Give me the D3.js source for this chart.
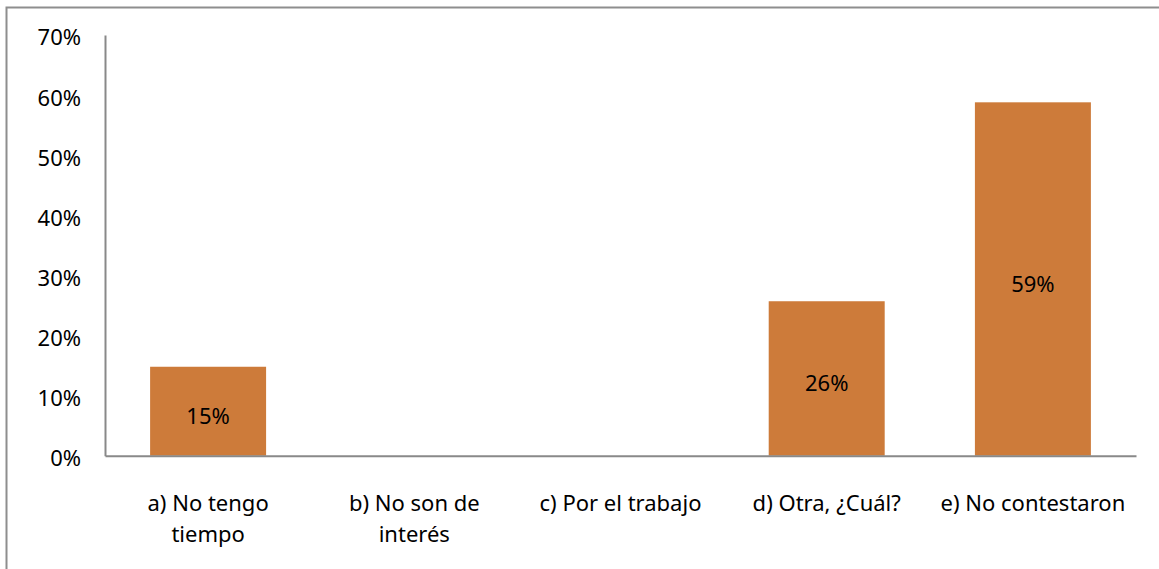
<!DOCTYPE html>
<html>
<head>
<meta charset="utf-8">
<script src="https://cdn.jsdelivr.net/npm/d3@7"></script>
<style>
  body { margin: 0; background: #fff; }
  #chart { width: 1159px; height: 569px; }
  text { font-family: "Noto Sans", sans-serif; fill: #000; }
</style>
</head>
<body>
<div id="chart"></div>
<script>
// data
const categories = ["a) No tengo\ntiempo", "b) No son de\ninterés", "c) Por el trabajo", "d) Otra, ¿Cuál?", "e) No contestaron"];
const values = [0.148, 0, 0, 0.257, 0.588];
const yTicks = [0, 0.1, 0.2, 0.3, 0.4, 0.5, 0.6, 0.7];

const width = 1159;
const height = 569;
const margin = { top: 35, right: 23, bottom: 113.3, left: 105 };

const svg = d3
  .select("#chart")
  .append("svg")
  .attr("width", width)
  .attr("height", height);

// chart frame, runs off the right and bottom edges
svg
  .append("rect")
  .attr("x", 6.5)
  .attr("y", 7.5)
  .attr("width", width + 10)
  .attr("height", height + 10)
  .attr("fill", "none")
  .attr("stroke", "#8e8e8e")
  .attr("stroke-width", 2);

const x = d3
  .scaleBand()
  .domain(categories)
  .range([margin.left, width - margin.right])
  .paddingInner(0.4375)
  .paddingOuter(0.21875);

const y = d3
  .scaleLinear()
  .domain([0, 0.7])
  .range([height - margin.bottom, margin.top]);

const bars = values
  .map((v, i) => ({ v, c: categories[i] }))
  .filter((d) => d.v > 0);

// bars
svg
  .append("g")
  .selectAll("rect")
  .data(bars)
  .enter()
  .append("rect")
  .attr("x", (d) => x(d.c))
  .attr("y", (d) => y(d.v))
  .attr("width", x.bandwidth())
  .attr("height", (d) => y(0) - y(d.v))
  .attr("fill", "#cd7b3a");

// value labels
svg
  .append("g")
  .selectAll("text")
  .data(bars)
  .enter()
  .append("text")
  .attr("x", (d) => x(d.c) + x.bandwidth() / 2)
  .attr("y", (d) => (y(d.v) + y(0)) / 2 + 5)
  .attr("dy", "0.35em")
  .attr("text-anchor", "middle")
  .attr("font-size", 22)
  .text((d) => d3.format(".0%")(d.v));

// y axis
const yAxis = svg
  .append("g")
  .attr("transform", `translate(${margin.left},0)`)
  .call(d3.axisLeft(y).tickValues(yTicks).tickFormat(d3.format(".0%")).tickSize(0).tickPadding(24));
yAxis.select(".domain").attr("stroke", "#898989").attr("stroke-width", 2);
yAxis
  .selectAll("text")
  .attr("font-size", 22)
  .attr("font-family", "Noto Sans")
  .attr("fill", "#000")
  .attr("dy", "0.45em");

// x axis
const xAxis = svg
  .append("g")
  .attr("transform", `translate(0,${y(0)})`)
  .call(d3.axisBottom(x).tickSize(0).tickFormat(""));
xAxis.select(".domain").attr("stroke", "#898989").attr("stroke-width", 2);

xAxis
  .selectAll(".tick")
  .append("text")
  .attr("text-anchor", "middle")
  .attr("font-size", 22)
  .selectAll("tspan")
  .data((d) => d.split("\n"))
  .enter()
  .append("tspan")
  .attr("x", 0)
  .attr("y", (d, i) => 55 + i * 31)
  .text((d) => d);
</script>
</body>
</html>
